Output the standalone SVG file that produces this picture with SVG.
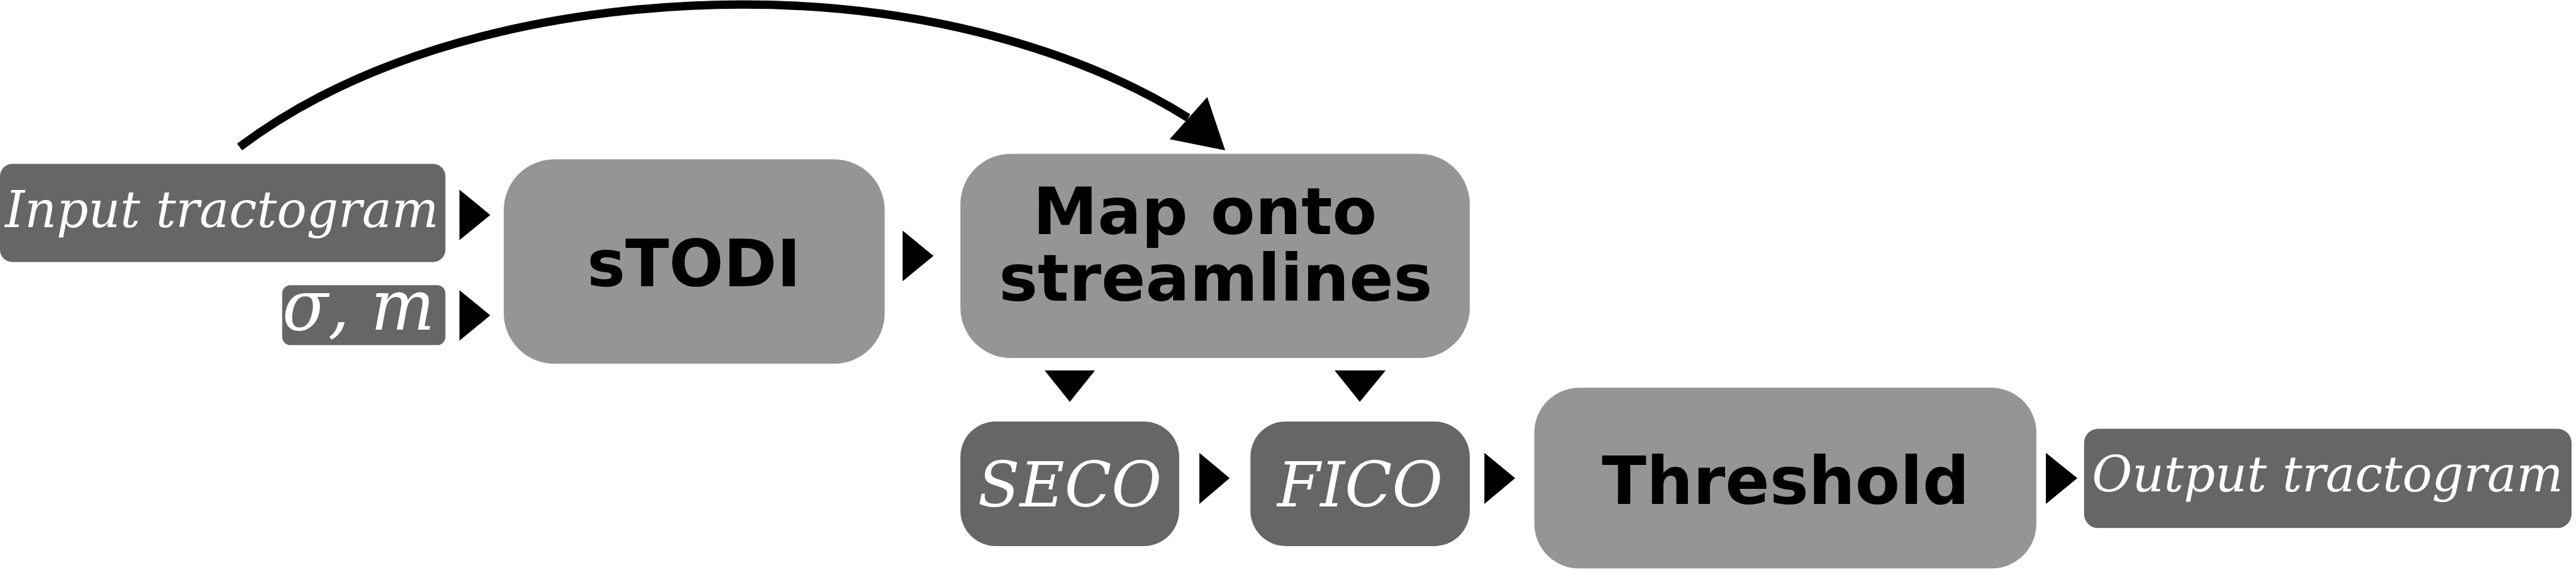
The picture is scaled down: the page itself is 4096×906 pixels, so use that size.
<svg xmlns="http://www.w3.org/2000/svg" width="4096" height="906" viewBox="0 0 4096 906">
<style>
.dark{fill:#666666}
.light{fill:#959595}
.it{font-family:"DejaVu Serif","Liberation Serif",serif;font-style:italic;fill:#ffffff}
.bd{font-family:"DejaVu Sans","Liberation Sans",sans-serif;font-weight:bold;fill:#000000;text-anchor:middle}
.tri{fill:#000000}
</style>
<rect width="4096" height="906" fill="#ffffff"/>
<g transform="scale(0.892)">
<g id="input">
<rect class="dark" x="0" y="292" width="794" height="175" rx="22" ry="22"/>
<text class="it" x="9" y="405" font-size="90" textLength="773" lengthAdjust="spacingAndGlyphs">Input tractogram</text>
</g>
<g id="params">
<rect class="dark" x="503" y="508" width="291" height="107" rx="15" ry="15"/>
<text class="it" x="503" y="587" font-size="126" textLength="272" lengthAdjust="spacingAndGlyphs">σ, m</text>
</g>
<g id="stodi">
<rect class="light" x="898" y="284" width="679" height="364" rx="90" ry="90"/>
<text class="bd" x="1237" y="510" font-size="116" textLength="381" lengthAdjust="spacingAndGlyphs">sTODI</text>
</g>
<g id="map">
<rect class="light" x="1712" y="274" width="908" height="364" rx="90" ry="90"/>
<text class="bd" x="2148" y="417" font-size="116" textLength="613" lengthAdjust="spacingAndGlyphs">Map onto</text>
<text class="bd" x="2167" y="536" font-size="116" textLength="773" lengthAdjust="spacingAndGlyphs">streamlines</text>
</g>
<g id="seco">
<rect class="dark" x="1712" y="751" width="390" height="222" rx="63" ry="63"/>
<text class="it" x="1743" y="903" font-size="112" textLength="328" lengthAdjust="spacingAndGlyphs">SECO</text>
</g>
<g id="fico">
<rect class="dark" x="2229" y="751" width="391" height="222" rx="63" ry="63"/>
<text class="it" x="2277" y="903" font-size="112" textLength="295" lengthAdjust="spacingAndGlyphs">FICO</text>
</g>
<g id="threshold">
<rect class="light" x="2735" y="691" width="895" height="322" rx="80" ry="80"/>
<text class="bd" x="3183" y="898" font-size="117" textLength="655" lengthAdjust="spacingAndGlyphs">Threshold</text>
</g>
<g id="output">
<rect class="dark" x="3715" y="764" width="869" height="177" rx="25" ry="25"/>
<text class="it" x="3729" y="876" font-size="88" textLength="840" lengthAdjust="spacingAndGlyphs">Output tractogram</text>
</g>
<g id="connectors">
<path d="M427,262 C699,58 1075,8 1325,8 C1675,8 1948,104 2118,210" fill="none" stroke="#000000" stroke-width="15"/>
<polygon class="tri" points="2152,173 2085,248 2184,268"/>
<polygon class="tri" points="819,338 819,428 874,383"/>
<polygon class="tri" points="819,517 819,607 874,562"/>
<polygon class="tri" points="1609,411 1609,501 1664,456"/>
<polygon class="tri" points="1862,660 1952,660 1907,716"/>
<polygon class="tri" points="2379,660 2470,660 2424,716"/>
<polygon class="tri" points="2138,807 2138,898 2192,852"/>
<polygon class="tri" points="2646,807 2646,898 2701,852"/>
<polygon class="tri" points="3647,807 3647,898 3703,852"/>
</g>
</g>
</svg>
